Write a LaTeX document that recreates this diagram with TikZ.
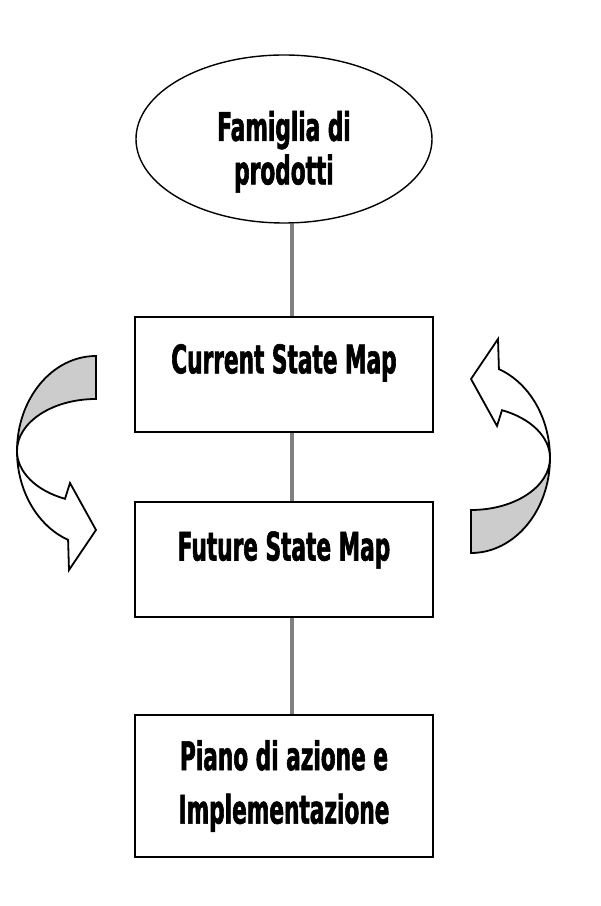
\documentclass[tikz,border=0pt]{standalone}
\usepackage{fontspec}
\usetikzlibrary{shapes.geometric}
\newfontfamily\mapfont{DejaVu Sans}[FakeStretch=0.55, FakeBold=1.5]
\tikzset{
	maptext/.style={font=\mapfont\bfseries\fontsize{28}{31}\selectfont, align=center},
	mapbox/.style={draw, line width=0.5mm, minimum width=7.45cm, minimum height=2.875cm},
	link/.style={line width=1mm, color=black!50}
}
\def\turnarrow{%
	\draw[line width=0.45mm, fill=black!20] (2.4, 13.75) arc[start angle=90, end angle=180, x radius=1.975, y radius=2.375] arc[start angle=180, end angle=90, x radius=1.975, y radius=1.3] -- cycle;
	\draw[line width=0.45mm, fill=white] (0.425, 11.375) arc[start angle=180, end angle=249.3, x radius=1.975, y radius=2.375] -- (1.725, 8.4) -- (2.4, 9.4) -- (1.75, 10.575) -- (1.625, 10.18) arc[start angle=246.9, end angle=180, x radius=1.975, y radius=1.3] -- cycle;
}

\begin{document}
\begin{tikzpicture}
			%%%%% START %%%%%
			
			\useasboundingbox (0, 0) rectangle (15, 22.65);
			
			\node[draw, ellipse, line width=0.35mm, minimum width=7.4cm, minimum height=4.2cm, label={[maptext, yshift=-0.32cm]center:Famiglia di\\prodotti}] (fam) at (7.1, 19.175) {};
			
			\node[mapbox, label={[maptext, yshift=0.29cm]center:Current State Map}] (cur) at (7.1, 13.29) {};
			\node[mapbox, label={[maptext, yshift=0.24cm]center:Future State Map}] (fut) at (7.1, 8.66) {};
			\node[mapbox, minimum height=3.55cm, label={[maptext]center:Piano di azione e\\[7pt]Implementazione}] (pia) at (7.1, 3.0) {};
			
			\draw[link] ([xshift=2mm]fam.south) -- ([xshift=2mm]cur.north);
			\draw[link] ([xshift=2mm]cur.south) -- ([xshift=2mm]fut.north);
			\draw[link] ([xshift=2mm]fut.south) -- ([xshift=2mm]pia.north);
			
			\turnarrow
			\begin{scope}[rotate around={180:(7.0875, 11.2875)}]
				\turnarrow
			\end{scope}
			
			%%%%% END %%%%%
\end{tikzpicture}
\end{document}
